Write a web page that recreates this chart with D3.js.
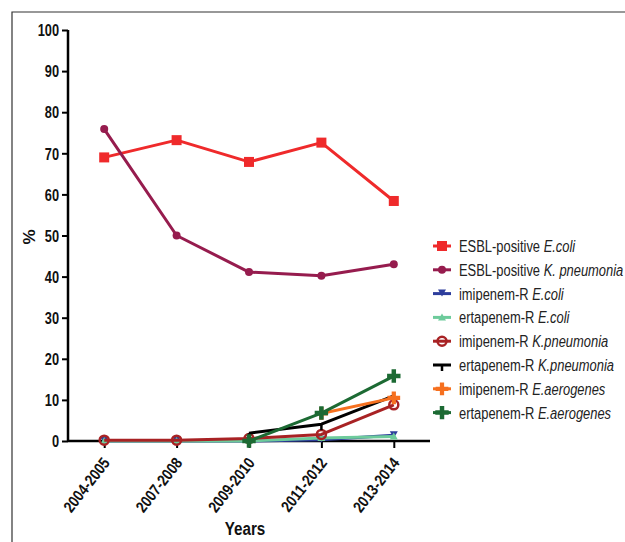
<!DOCTYPE html>
<html><head><meta charset="utf-8">
<script src="https://cdn.jsdelivr.net/npm/d3@7"></script>
<style>
body{margin:0;background:#fff;}
svg{display:block;}
text{font-family:"Liberation Sans",Arial,sans-serif;}
</style></head>
<body>
<svg id="chart" width="625" height="542"></svg>
<script>
const categories = ["2004-2005","2007-2008","2009-2010","2011-2012","2013-2014"];
const yTicks = [0,10,20,30,40,50,60,70,80,90,100];
const seriesNames = [
  ["ESBL-positive ","E.coli"],
  ["ESBL-positive ","K. pneumonia"],
  ["imipenem-R ","E.coli"],
  ["ertapenem-R ","E.coli"],
  ["imipenem-R ","K.pneumonia"],
  ["ertapenem-R ","K.pneumonia"],
  ["imipenem-R ","E.aerogenes"],
  ["ertapenem-R ","E.aerogenes"]
];
const esblEcoli      = [69.0, 73.2, 67.9, 72.6, 58.4];
const esblKpn        = [75.9, 50.0, 41.1, 40.2, 43.0];
const imiEcoli       = [0, 0, 0, 0.3, 1.4];
const ertaEcoli      = [0, 0, 0, 0.7, 1.1];
const imiKpn         = [0.2, 0.2, 0.6, 1.6, 8.8];
const ertaKpn        = [null, null, 1.9, 4.1, 11.0];
const imiEaero       = [null, null, null, 6.7, 10.5];
const ertaEaero      = [null, null, 0, 6.8, 15.8];
const seriesValues = [esblEcoli, esblKpn, imiEcoli, ertaEcoli, imiKpn, ertaKpn, imiEaero, ertaEaero];
const colors = ["#EF2A2B","#961C4E","#2D3D9C","#6DCB9B","#A82224","#000000","#F6701F","#1C6A33"];
const markers = ["square","circle","triDown","triUp","openCircle","tick","star","cross"];

const svg = d3.select("#chart");
const W = 625, H = 542;
const SX = 0.8; // horizontal condensing of the narrow font
// frame
svg.append("path").attr("d", `M12,${H} L12,12 L${W},12`).attr("fill","none").attr("stroke","#333").attr("stroke-width",1.2);

const x = d3.scalePoint().domain(categories).range([68,430]).padding(0.5);
const y = d3.scaleLinear().domain([0,100]).range([441,30]);

// axes
const yAxis = svg.append("g").attr("transform","translate(68,0)")
  .call(d3.axisLeft(y).tickValues(yTicks).tickSize(6).tickSizeOuter(0).tickPadding(2));
const xAxis = svg.append("g").attr("transform","translate(0,441)")
  .call(d3.axisBottom(x).tickSize(7).tickSizeOuter(0).tickPadding(4));
[yAxis,xAxis].forEach(g=>{
  g.select(".domain").attr("stroke","#000").attr("stroke-width",2.5);
  g.selectAll(".tick line").attr("stroke","#000").attr("stroke-width",2);
  g.selectAll("text").attr("fill","#111").attr("font-weight","bold");
});
yAxis.select(".domain").attr("d","M0,441V30");
xAxis.select(".domain").attr("d","M68,0H430");
yAxis.selectAll("text").attr("font-size",16).attr("x",-9/SX).attr("dy","0.36em")
  .attr("transform",`scale(${SX},1)`);
xAxis.selectAll("text").attr("font-size",16)
  .attr("text-anchor","end").attr("x",0).attr("y",0).attr("dy","0")
  .attr("transform",`translate(6,22) rotate(-52) scale(0.84,1)`);

svg.append("text").attr("transform",`translate(245,535) scale(${SX},1)`)
  .attr("text-anchor","middle").attr("font-size",19).attr("font-weight","bold").attr("fill","#111").text("Years");
svg.append("text").attr("transform","translate(35,237) rotate(-90)")
  .attr("text-anchor","middle").attr("font-size",17).attr("font-weight","bold").attr("fill","#111").text("%");

function drawMarker(g, type, color, cx, cy){
  switch(type){
    case "square": g.append("rect").attr("x",cx-5).attr("y",cy-5).attr("width",10).attr("height",10).attr("fill",color); break;
    case "circle": g.append("circle").attr("cx",cx).attr("cy",cy).attr("r",4).attr("fill",color); break;
    case "triDown": g.append("path").attr("d",`M${cx-4},${cy-4}L${cx+4},${cy-4}L${cx},${cy+3}Z`).attr("fill",color); break;
    case "triUp": g.append("path").attr("d",`M${cx-4},${cy+3}L${cx+4},${cy+3}L${cx},${cy-4}Z`).attr("fill",color); break;
    case "openCircle": g.append("circle").attr("cx",cx).attr("cy",cy).attr("r",4.5).attr("fill","none").attr("stroke",color).attr("stroke-width",2.5); break;
    case "tick": g.append("line").attr("x1",cx).attr("x2",cx).attr("y1",cy).attr("y2",cy+6).attr("stroke",color).attr("stroke-width",2.5); break;
    case "star": g.append("path").attr("d",d3.symbol(d3.symbolCross,90)()).attr("transform",`translate(${cx},${cy})`).attr("fill",color); break;
    case "cross": g.append("path").attr("d",d3.symbol(d3.symbolCross,100)()).attr("transform",`translate(${cx},${cy})`).attr("fill",color); break;
  }
}

const line = d3.line().defined(d=>d.v!==null).x(d=>x(d.c)).y(d=>y(d.v));
seriesValues.forEach((vals,i)=>{
  const pts = vals.map((v,j)=>({c:categories[j], v}));
  const g = svg.append("g");
  g.append("path").datum(pts).attr("d",line).attr("fill","none")
    .attr("stroke",colors[i]).attr("stroke-width",3).attr("stroke-linejoin","round");
  pts.filter(p=>p.v!==null).forEach(p=>drawMarker(g, markers[i], colors[i], x(p.c), y(p.v)));
});

// legend
const legend = svg.append("g");
seriesNames.forEach((nm,i)=>{
  const ly = 246 + i*23.8;
  legend.append("line").attr("x1",433).attr("x2",451).attr("y1",ly).attr("y2",ly)
    .attr("stroke",colors[i]).attr("stroke-width",3);
  drawMarker(legend, markers[i], colors[i], 442, ly);
  const t = legend.append("text").attr("transform",`translate(459,${ly+6}) scale(0.76,1)`)
    .attr("font-size",17).attr("fill","#222");
  t.append("tspan").text(nm[0]);
  t.append("tspan").attr("font-style","italic").text(nm[1]);
});
</script>
</body></html>
